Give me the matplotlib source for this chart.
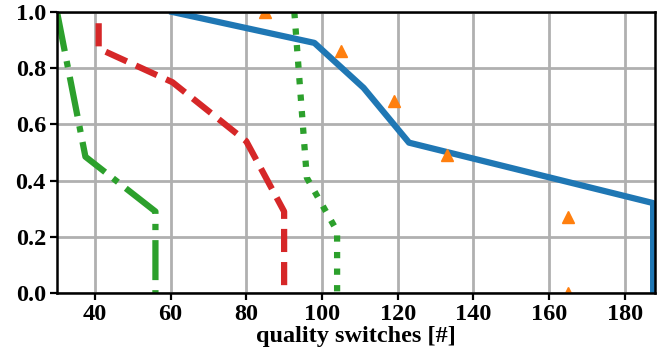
import matplotlib
matplotlib.use('Agg')
import matplotlib.pyplot as plt

# 数据
blue_x = [60.5, 98, 111, 123, 187.5, 187.5]
blue_y = [1.0, 0.89, 0.73, 0.535, 0.32, 0.0]

orange_x = [85, 105, 119, 133, 165, 165]
orange_y = [1.0, 0.86, 0.685, 0.49, 0.27, 0.0]

red_x = [41, 41, 60.5, 80, 90, 90]
red_y = [0.96, 0.87, 0.75, 0.54, 0.29, 0.0]

green_dd_x = [30, 37.5, 56, 56]
green_dd_y = [1.0, 0.485, 0.29, 0.0]

green_dot_x = [92.7, 96, 104, 104]
green_dot_y = [1.0, 0.41, 0.22, 0.0]

x_ticks = [40, 60, 80, 100, 120, 140, 160, 180]
y_ticks = [0.0, 0.2, 0.4, 0.6, 0.8, 1.0]

plt.rcParams['font.family'] = ['Liberation Serif', 'DejaVu Serif']
plt.rcParams['font.weight'] = 'bold'

fig = plt.figure(figsize=(6.57, 3.58), dpi=100)
ax = fig.add_axes([0.0868, 0.1816, 0.9102, 0.7849])

lw = 4.5
ax.plot(blue_x, blue_y, color='#1f77b4', lw=lw, linestyle='-')
ax.plot(orange_x, orange_y, color='#ff7f0e', linestyle='none', marker='^', markersize=9)
ax.plot(red_x, red_y, color='#d62728', lw=lw, linestyle='--')
ax.plot(green_dd_x, green_dd_y, color='#2ca02c', lw=lw, linestyle='-.')
ax.plot(green_dot_x, green_dot_y, color='#2ca02c', lw=lw, linestyle=':')

ax.set_xlim(30, 188)
ax.set_ylim(0, 1.0)
ax.set_xticks(x_ticks)
ax.set_yticks(y_ticks)
ax.set_yticklabels([f'{v:.1f}' for v in y_ticks])
ax.grid(True, color='#b0b0b0', lw=2)
ax.set_axisbelow(True)
ax.tick_params(labelsize=17.5, width=1.6, length=5, pad=3)
for s in ax.spines.values():
    s.set_linewidth(1.8)
ax.set_xlabel('quality switches [#]', fontsize=17.5, fontweight='bold', labelpad=1)

fig.savefig('out.png', dpi=100)
